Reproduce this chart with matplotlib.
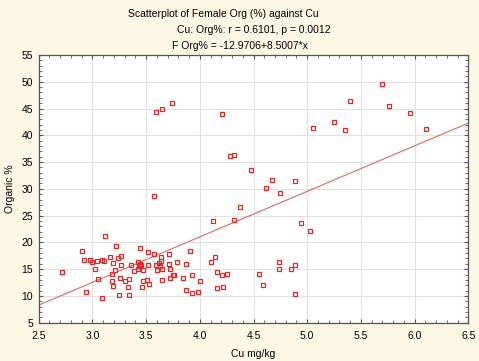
import matplotlib
matplotlib.use("Agg")
import matplotlib.pyplot as plt
import numpy as np
from matplotlib.ticker import MultipleLocator

plt.rcParams['font.family'] = ['Liberation Sans', 'DejaVu Sans']

cu = [2.72, 2.90, 2.92, 2.94, 2.98, 3.00, 3.02, 3.04, 3.05, 3.09, 3.09, 3.11, 3.12,
      3.16, 3.18, 3.18, 3.19, 3.19, 3.21, 3.22, 3.24, 3.25, 3.26, 3.27, 3.27, 3.30,
      3.33, 3.34, 3.34, 3.36, 3.39, 3.42, 3.42, 3.44, 3.44, 3.45, 3.43, 3.46, 3.47,
      3.47, 3.51, 3.52, 3.52, 3.53, 3.57, 3.59, 3.60, 3.62, 3.63, 3.64, 3.64, 3.65,
      3.65, 3.71, 3.71, 3.72, 3.72, 3.75, 3.76, 3.79, 3.84, 3.87, 3.87, 3.91, 3.93,
      3.93, 3.98, 4.00, 4.10, 4.12, 4.14, 4.16, 4.16, 4.21, 4.22, 4.25, 4.32, 4.37,
      3.59, 3.65, 3.74, 4.21, 4.28, 4.32, 4.48, 3.57, 4.62, 4.67, 4.75, 4.89,
      5.05, 5.25, 5.35, 5.40, 5.70, 5.76, 5.96, 6.11,
      4.94, 5.03, 4.74, 4.74, 4.85, 4.89, 4.55, 4.59, 4.89]
org = [14.5, 18.4, 16.7, 10.8, 16.75, 16.25, 15.1, 16.5, 13.2, 16.75, 9.7, 16.5, 21.2,
       17.3, 14.1, 12.7, 11.85, 16.2, 14.8, 19.4, 17.1, 10.2, 13.4, 15.7, 17.4, 12.7,
       11.65, 13.2, 10.1, 15.7, 14.65, 15.1, 16.4, 18.9, 15.95, 15.7, 15.5, 11.65, 12.7,
       14.9, 12.9, 18.2, 15.8, 12.2, 17.75, 15.8, 14.9, 16.1, 15.6, 17.3, 16.5, 15.1,
       13.0, 17.9, 15.95, 15.1, 13.3, 13.95, 13.95, 16.3, 13.4, 15.9, 11.2, 18.4, 14.0,
       10.6, 10.8, 12.7, 16.3, 24.0, 17.3, 14.4, 11.5, 13.95, 11.65, 14.1, 24.2, 26.6,
       44.3, 44.9, 46.0, 44.0, 36.1, 36.35, 33.5, 28.7, 30.2, 31.7, 29.2, 31.4,
       41.4, 42.4, 41.0, 46.4, 49.5, 45.4, 44.2, 41.1,
       23.7, 22.2, 16.4, 15.0, 14.95, 15.7, 14.05, 12.0, 10.3]

intercept = -12.9706
slope = 8.5007

title_lines = ["Scatterplot of Female Org (%) against Cu",
               "Cu: Org%: r = 0.6101, p = 0.0012",
               "F Org% = -12.9706+8.5007*x"]

bg = '#FCF8E6'
fig = plt.figure(figsize=(4.79, 3.61), dpi=100, facecolor=bg)
ax = fig.add_axes([38.7/479, 1-322.7/361, (468.3-38.7)/479, (322.7-55)/361])
ax.set_facecolor('white')

xl = np.array([2.5, 6.5])
ax.plot(xl, intercept + slope*xl, color='#D86A6A', lw=0.8, zorder=2)
ax.plot(cu, org, linestyle='none', marker='s', markersize=3.5, markerfacecolor='none',
        markeredgecolor='#E02828', markeredgewidth=0.9, zorder=3)

ax.set_xlim(2.5, 6.5)
ax.set_ylim(5, 55)
ax.xaxis.set_major_locator(MultipleLocator(0.5))
ax.xaxis.set_minor_locator(MultipleLocator(0.1))
ax.yaxis.set_major_locator(MultipleLocator(5))
ax.yaxis.set_minor_locator(MultipleLocator(1))
ax.xaxis.set_major_formatter(plt.FuncFormatter(lambda v, p: f"{v:.1f}"))
ax.yaxis.set_major_formatter(plt.FuncFormatter(lambda v, p: f"{v:.0f}"))
ax.grid(True, which='major', color='#E2E2E2', lw=0.8, zorder=0)
ax.set_axisbelow(True)
ax.tick_params(which='both', direction='in', top=True, right=True, colors='#555555',
               labelcolor='black', labelsize=7.5)
ax.tick_params(which='major', length=3)
ax.tick_params(axis='x', which='major', pad=6)
ax.tick_params(axis='y', which='major', pad=4)
ax.tick_params(which='minor', length=2)
for s in ax.spines.values():
    s.set_color('#555555')
    s.set_linewidth(0.9)

ax.set_xlabel("Cu mg/kg", fontsize=7.5, labelpad=6)
ax.set_ylabel("Organic %", fontsize=7.5, labelpad=5)

fig.text(223/479, 1-14/361, title_lines[0], ha='center', va='center', fontsize=7.5)
fig.text(254/479, 1-30/361, title_lines[1], ha='center', va='center', fontsize=7.5)
fig.text(240/479, 1-46/361, title_lines[2], ha='center', va='center', fontsize=7.5)

fig.savefig("out.png", dpi=100, facecolor=bg)
